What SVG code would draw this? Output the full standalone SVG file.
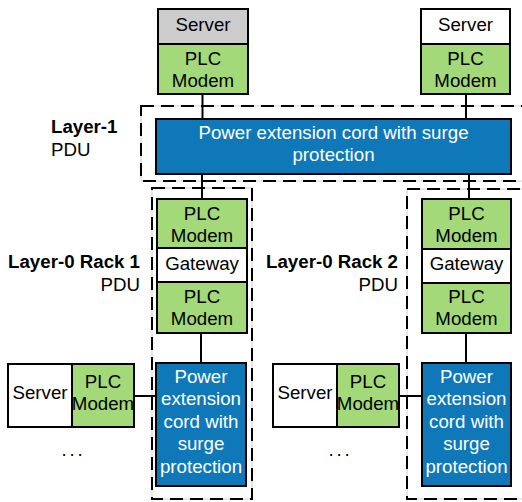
<svg xmlns="http://www.w3.org/2000/svg" width="522" height="502" viewBox="0 0 522 502">
<style>
text{font-family:"Liberation Sans",Arial,sans-serif;font-size:18.7px;fill:#000;}
.c{text-anchor:middle;}
.r{text-anchor:end;}
.b{font-weight:bold;}
.w{fill:#fff;}
.dots{letter-spacing:2.8px;}
.box{stroke:#000;stroke-width:2;}
.gray{fill:#cccccc;}
.white{fill:#ffffff;}
.green{fill:#a3d978;}
.blue{fill:#0f78b8;}
.grp{fill:none;stroke:#d0d0d0;stroke-width:1;}
.dash{fill:none;stroke:#000;stroke-width:2;stroke-dasharray:13 7;}
.ln{stroke:#000;stroke-width:2;fill:none;}
</style>
<rect width="522" height="502" fill="#fff"/>
<g id="groups">
<rect class="grp" x="141" y="106" width="400" height="75"/>
<rect class="dash" x="141" y="106" width="400" height="75"/>
<rect class="grp" x="152" y="188" width="100" height="311"/>
<rect class="dash" x="152" y="188" width="100" height="311"/>
<rect class="grp" x="407" y="189" width="130" height="310"/>
<rect class="dash" x="407" y="189" width="130" height="310"/>
</g>
<g id="connectors">
<line class="ln" x1="202.5" y1="94" x2="202.5" y2="119"/>
<line class="ln" x1="466" y1="94" x2="466" y2="119"/>
<line class="ln" x1="202" y1="174" x2="202" y2="199"/>
<line class="ln" x1="469" y1="174" x2="469" y2="199"/>
<line class="ln" x1="201" y1="333" x2="201" y2="363"/>
<line class="ln" x1="466" y1="333" x2="466" y2="363"/>
<line class="ln" x1="134" y1="396" x2="156" y2="396"/>
<line class="ln" x1="399" y1="396" x2="422" y2="396"/>
</g>
<g id="labels">
<text class="b" x="51" y="133">Layer-1</text>
<text x="51" y="156">PDU</text>
<text class="b r" x="140" y="268">Layer-0 Rack 1</text>
<text class="r" x="140" y="291">PDU</text>
<text class="b r" x="398" y="268">Layer-0 Rack 2</text>
<text class="r" x="398" y="291">PDU</text>
<text class="c dots" x="73.5" y="456">...</text>
<text class="c dots" x="340.5" y="456">...</text>
</g>
<g id="server-top-left">
<rect class="box gray" x="158" y="9" width="90" height="35"/>
<text class="c" x="203" y="31">Server</text>
</g>
<g id="modem-top-left">
<rect class="box green" x="158" y="44" width="90" height="50"/>
<text class="c" x="203" y="65">PLC</text>
<text class="c" x="203" y="87">Modem</text>
</g>
<g id="server-top-right">
<rect class="box white" x="421" y="9" width="89" height="35"/>
<text class="c" x="465.5" y="31">Server</text>
</g>
<g id="modem-top-right">
<rect class="box green" x="421" y="44" width="89" height="50"/>
<text class="c" x="465.5" y="65">PLC</text>
<text class="c" x="465.5" y="87">Modem</text>
</g>
<g id="pdu-layer1">
<rect class="box blue" x="156" y="119" width="355" height="55"/>
<text class="c w" x="333.5" y="139">Power extension cord with surge</text>
<text class="c w" x="333.5" y="161">protection</text>
</g>
<g id="rack1-modem-top">
<rect class="box green" x="157" y="199" width="90" height="49"/>
<text class="c" x="202" y="220">PLC</text>
<text class="c" x="202" y="242">Modem</text>
</g>
<g id="rack1-gateway">
<rect class="box white" x="157" y="248" width="90" height="34"/>
<text class="c" x="202" y="270">Gateway</text>
</g>
<g id="rack1-modem-bottom">
<rect class="box green" x="157" y="282" width="90" height="51"/>
<text class="c" x="202" y="303">PLC</text>
<text class="c" x="202" y="325">Modem</text>
</g>
<g id="rack1-pdu">
<rect class="box blue" x="156" y="363" width="90" height="123"/>
<text class="c w" x="201" y="383">Power</text>
<text class="c w" x="201" y="405">extension</text>
<text class="c w" x="201" y="428">cord with</text>
<text class="c w" x="201" y="450">surge</text>
<text class="c w" x="201" y="473">protection</text>
</g>
<g id="rack1-server">
<rect class="box white" x="8" y="364" width="64" height="63"/>
<text class="c" x="40" y="399">Server</text>
</g>
<g id="rack1-server-modem">
<rect class="box green" x="72" y="364" width="62" height="63"/>
<text class="c" x="103" y="388">PLC</text>
<text class="c" x="103" y="410">Modem</text>
</g>
<g id="rack2-modem-top">
<rect class="box green" x="422" y="199" width="89" height="50"/>
<text class="c" x="466.5" y="220">PLC</text>
<text class="c" x="466.5" y="242">Modem</text>
</g>
<g id="rack2-gateway">
<rect class="box white" x="422" y="249" width="89" height="34"/>
<text class="c" x="466.5" y="270">Gateway</text>
</g>
<g id="rack2-modem-bottom">
<rect class="box green" x="422" y="283" width="89" height="50"/>
<text class="c" x="466.5" y="303">PLC</text>
<text class="c" x="466.5" y="325">Modem</text>
</g>
<g id="rack2-pdu">
<rect class="box blue" x="422" y="363" width="89" height="123"/>
<text class="c w" x="466.5" y="383">Power</text>
<text class="c w" x="466.5" y="405">extension</text>
<text class="c w" x="466.5" y="428">cord with</text>
<text class="c w" x="466.5" y="450">surge</text>
<text class="c w" x="466.5" y="473">protection</text>
</g>
<g id="rack2-server">
<rect class="box white" x="273" y="364" width="64" height="63"/>
<text class="c" x="305" y="399">Server</text>
</g>
<g id="rack2-server-modem">
<rect class="box green" x="337" y="364" width="62" height="63"/>
<text class="c" x="368" y="388">PLC</text>
<text class="c" x="368" y="410">Modem</text>
</g>
</svg>
